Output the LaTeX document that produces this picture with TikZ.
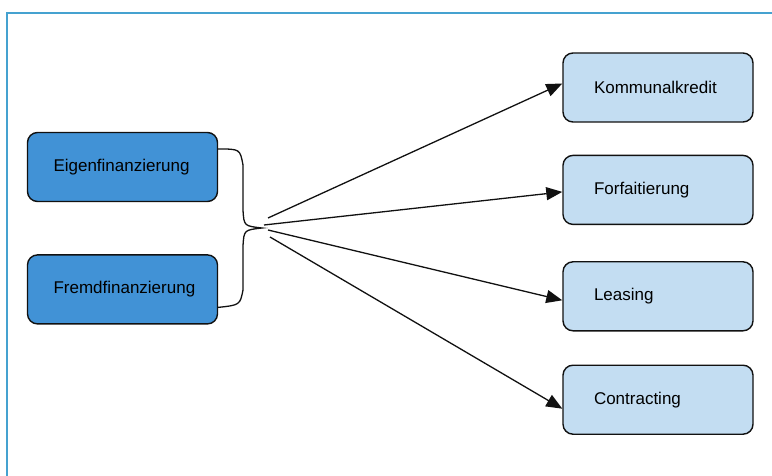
\documentclass[tikz,border=0pt]{standalone}
\usepackage{fontspec}
\setmainfont{Liberation Sans}
\usepackage{xcolor}
\definecolor{cFrame}{HTML}{45A2D0}
\definecolor{cDark}{HTML}{4192D6}
\definecolor{cLight}{HTML}{C3DDF2}
\definecolor{cLine}{HTML}{111111}
\usepackage{tikz}
\usetikzlibrary{positioning,arrows.meta,calc}
\tikzset{
  node-box/.style={draw=cLine,line width=1.4pt,rounded corners=10pt,
    minimum height=69pt,minimum width=190pt,align=left,
    font=\fontsize{17}{20}\selectfont},
  node-dark/.style={fill=cDark,inner xsep=26pt,text width=138pt},
  node-light/.style={fill=cLight,inner xsep=31pt,text width=128pt},
  arrow/.style={-{Triangle[length=16pt,width=13pt]},line width=1.3pt,draw=cLine},
  brace-line/.style={line width=1.3pt,draw=cLine},
  frame-line/.style={line width=2pt,draw=cFrame},
}

\begin{document}
\begin{tikzpicture}[x=1pt,y=-1pt,node distance=52pt and 12pt]
  \useasboundingbox (0,0) rectangle (772,476);
  \draw[frame-line] (7,476) |- (772,13);

  % Finanzierungsquellen
  \node[node-box,node-dark] (eigen) at (122.5,167) {Eigenfinanzierung};
  \node[node-box,node-dark,below=of eigen] (fremd) {Fremdfinanzierung};

  % Instrumente
  \node[node-box,node-light] (kom) at (658,87.5) {Kommunalkredit};
  \node[node-box,node-light,below=32pt of kom] (forf) {Forfaitierung};
  \node[node-box,node-light,below=36pt of forf] (leas) {Leasing};
  \node[node-box,node-light,below=33pt of leas] (con) {Contracting};

  % geschweifte Klammer
  \coordinate (tip) at (262,228);
  \draw[brace-line] ($(eigen.east)+(0,-18)$) .. controls (240,149) .. (243,165)
    -- (243,210) .. controls (244,226) .. (tip)
    .. controls (244,230) .. (243,246) -- (243,290)
    .. controls (240,305) .. ($(fremd.east)+(0,18)$);

  \coordinate (s1) at (268,218);
  \coordinate (s2) at (264,225);
  \coordinate (s3) at (268,230);
  \coordinate (s4) at (270,237);
  \draw[arrow] (s1) -- ($(kom.west)+(0,-4)$);
  \draw[arrow] (s2) -- ($(forf.west)+(0,2)$);
  \draw[arrow] (s3) -- ($(leas.west)+(0,4)$);
  \draw[arrow] (s4) -- ($(con.west)+(0,9)$);
\end{tikzpicture}
\end{document}
